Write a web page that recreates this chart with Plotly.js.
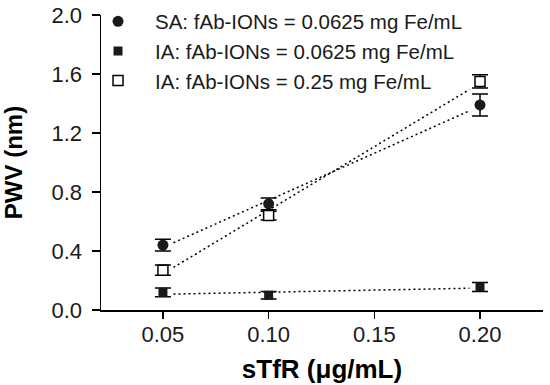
<!DOCTYPE html>
<html>
<head>
<meta charset="utf-8">
<script src="https://cdn.plot.ly/plotly-3.0.1.min.js"></script>
<style>html,body{margin:0;padding:0;background:#fff;}#chart{width:550px;height:385px;}</style>
</head>
<body>
<div id="chart"></div>
<script>
// Data
var sTfR = [0.05, 0.10, 0.20];
var saLabel = "SA: fAb-IONs = 0.0625 mg Fe/mL";
var saPWV = [0.44, 0.72, 1.39];
var saErr = [0.04, 0.04, 0.075];
var ia1Label = "IA: fAb-IONs = 0.0625 mg Fe/mL";
var ia1PWV = [0.12, 0.10, 0.156];
var ia1Err = [0.03, 0.025, 0.03];
var ia2Label = "IA: fAb-IONs = 0.25 mg Fe/mL";
var ia2PWV = [0.27, 0.64, 1.55];
var ia2Err = [0.035, 0.03, 0.045];
var fitRange = [0.055, 0.195];
var xTicks = [0.05, 0.10, 0.15, 0.20];
var yTicks = [0.0, 0.4, 0.8, 1.2, 1.6, 2.0];

function linfit(x, y) {
  var n = x.length, mx = 0, my = 0;
  for (var i = 0; i < n; i++) { mx += x[i]; my += y[i]; }
  mx /= n; my /= n;
  var sxy = 0, sxx = 0;
  for (var j = 0; j < n; j++) { sxy += (x[j]-mx)*(y[j]-my); sxx += (x[j]-mx)*(x[j]-mx); }
  var b = sxy / sxx, a = my - b*mx;
  return fitRange.map(function (v) { return a + b*v; });
}

var FONT = "Liberation Sans, Arial, sans-serif";
var fitStyle = {color: '#000', width: 1.5, dash: '2px,3px'};
var ebar = function (arr) { return {type: 'data', array: arr, visible: true, color: '#000', thickness: 1.5, width: 8}; };

var traces = [
  {x: fitRange, y: linfit(sTfR, saPWV), mode: 'lines', line: fitStyle, showlegend: false, hoverinfo: 'skip'},
  {x: fitRange, y: linfit(sTfR, ia1PWV), mode: 'lines', line: fitStyle, showlegend: false, hoverinfo: 'skip'},
  {x: fitRange, y: linfit(sTfR, ia2PWV), mode: 'lines', line: fitStyle, showlegend: false, hoverinfo: 'skip'},
  {x: sTfR, y: saPWV, name: saLabel, mode: 'markers', error_y: ebar(saErr),
   marker: {symbol: 'circle', size: 11, color: '#1a1a1a', line: {width: 0}}},
  {x: sTfR, y: ia1PWV, name: ia1Label, mode: 'markers', error_y: ebar(ia1Err),
   marker: {symbol: 'square', size: 9, color: '#1a1a1a', line: {width: 0}}},
  {x: sTfR, y: ia2PWV, name: ia2Label, mode: 'markers', error_y: ebar(ia2Err),
   marker: {symbol: 'square', size: 10, color: '#fff', line: {width: 1.5, color: '#000'}}}
];

var layout = {
  width: 550, height: 385,
  margin: {l: 101, r: 7, t: 15, b: 75, autoexpand: false},
  paper_bgcolor: '#fff', plot_bgcolor: '#fff',
  font: {family: FONT, color: '#1a1a1a'},
  showlegend: true,
  legend: {x: -0.0452, y: 1.0458, xanchor: 'left', yanchor: 'top', bgcolor: 'rgba(0,0,0,0)',
           font: {family: FONT, size: 20.5, color: '#1a1a1a'}, tracegroupgap: 0, itemwidth: 64},
  xaxis: {
    range: [0.0207, 0.2298], tickvals: xTicks, tickformat: '.2f', automargin: false,
    showgrid: false, zeroline: false, showline: true, linecolor: '#000', linewidth: 1.5,
    ticks: 'outside', ticklen: 7, tickwidth: 1.5, tickcolor: '#000', ticklabelstandoff: -3,
    tickfont: {family: FONT, size: 22, color: '#1a1a1a'},
    title: {text: 'sTfR (\u03bcg/mL)', font: {family: FONT, size: 26, color: '#000', weight: 'bold'}, standoff: 14}
  },
  yaxis: {
    range: [0, 2.0], tickvals: yTicks, tickformat: '.1f', automargin: false,
    showgrid: false, zeroline: false, showline: true, linecolor: '#000', linewidth: 1.5,
    ticks: 'outside', ticklen: 8, tickwidth: 1.5, tickcolor: '#000', ticklabelstandoff: 5,
    tickfont: {family: FONT, size: 22, color: '#1a1a1a'},
    title: {text: 'PWV (nm)', font: {family: FONT, size: 24, color: '#000', weight: 'bold'}, standoff: 22}
  }
};

Plotly.newPlot('chart', traces, layout, {displayModeBar: false, staticPlot: true});
</script>
</body>
</html>
